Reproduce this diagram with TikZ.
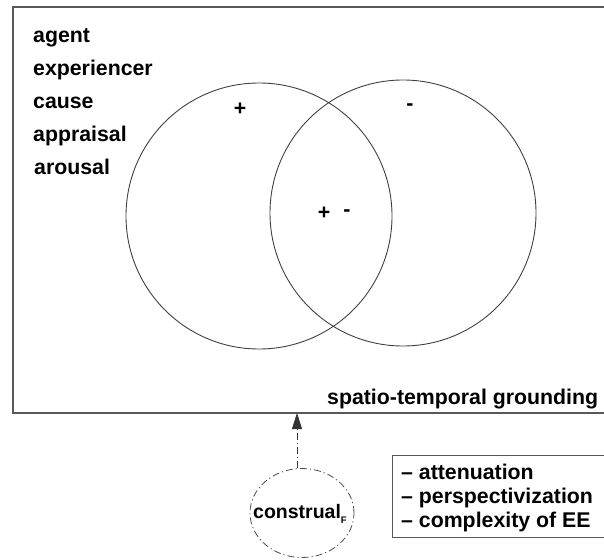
\documentclass[tikz,border=0pt]{standalone}
\usepackage{fontspec}
\setmainfont{Liberation Sans}
\usetikzlibrary{arrows.meta,shapes.geometric}
\tikzset{
  lbl/.style={font=\bfseries\fontsize{21.3}{24}\selectfont, inner sep=0pt, anchor=base west},
  sgn/.style={font=\bfseries\fontsize{21.3}{24}\selectfont, inner sep=0pt},
  ring/.style={draw=black!75, line width=0.9pt},
  frameline/.style={draw=black!65, line width=1.3pt},
  dashdot/.style={dash pattern=on 7pt off 3pt on 1.2pt off 3pt},
}
\begin{document}
\begin{tikzpicture}[x=1pt, y=-1pt]
\useasboundingbox (0,0) rectangle (604,559);
% outer frame, open to the right
\draw[frameline] (620,7) -- (13,7) -- (13,413) -- (620,413);
\coordinate (framebottom) at (297,413);
% role labels
\node[lbl] (agent) at (33,43) {agent};
\node[lbl] (exp) at (33,76) {experiencer};
\node[lbl] (cause) at (33,109) {cause};
\node[lbl] (appr) at (33,141) {appraisal};
\node[lbl] (arou) at (34,174) {arousal};
% overlapping circles
\node[ring, circle, minimum size=266pt, inner sep=0pt] (left) at (259,216) {};
\node[ring, circle, minimum size=266pt, inner sep=0pt] (right) at (403,213) {};
\node[sgn] (plusL) at (240,109) {+};
\node[sgn] (minusR) at (410,107) {-};
\node[sgn] (plusM) at (324,213) {+};
\node[sgn] (minusM) at (347,213) {-};
% grounding label
\node[lbl] (ground) at (327,404) {spatio-temporal grounding};
% construal ellipse, its label and its arrow
\node[draw=black!70, line width=0.8pt, dashdot, ellipse, minimum width=104pt, minimum height=89pt, inner sep=0pt] (constr) at (302,513) {};
\node[font=\bfseries\fontsize{19.5}{22}\selectfont, inner sep=0pt] (constrtext) at (300,514)
  {construal\raisebox{-5pt}{\fontsize{9.5}{10}\selectfont F}};
\draw[draw=black!80, line width=0.8pt, dashdot, -{Triangle[length=16pt, width=10pt]}] (constr.north -| framebottom) -- (framebottom);
% legend box
\node[draw=black!65, line width=1pt, anchor=north west, minimum width=230pt, minimum height=82pt, inner sep=0pt] (legbox) at (392,455) {};
\node[lbl] (l1) at (401,479) {-- attenuation};
\node[lbl] (l2) at (401,503) {-- perspectivization};
\node[lbl] (l3) at (401,527) {-- complexity of EE};
\end{tikzpicture}
\end{document}
